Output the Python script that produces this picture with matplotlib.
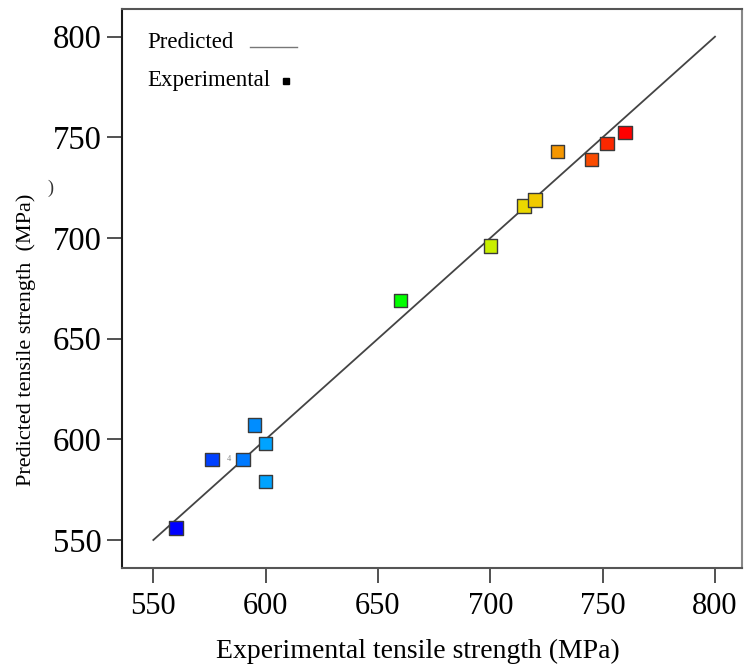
import matplotlib
matplotlib.use("Agg")
import matplotlib.pyplot as plt
from matplotlib.colors import LinearSegmentedColormap, Normalize

# ---- data ----
exp_strength = [560, 576, 590, 595, 600, 600, 660, 700, 715, 720, 730, 745, 752, 760]
pred_strength = [556, 590, 590, 607, 598, 579, 669, 696, 716, 719, 743, 739, 747, 752.5]
fit_x = [550, 800]
fit_y = [550, 800]
ticks = [550, 600, 650, 700, 750, 800]
legend_labels = ["Predicted", "Experimental"]
xlabel = "Experimental tensile strength (MPa)"
ylabel = "Predicted tensile strength  (MPa)"

FONT = "Liberation Serif"

fig = plt.figure(figsize=(7.45, 6.64), dpi=100)
ax = fig.add_axes([0.1642, 0.1446, 0.8314, 0.8414])

cmap = LinearSegmentedColormap.from_list(
    "de", [(0.0, "#0000ff"), (0.25, "#00ccff"), (0.5, "#00ff00"),
           (0.7, "#c8f000"), (0.79, "#f0d400"), (1.0, "#ff0000")])
norm = Normalize(vmin=560, vmax=760)

ax.plot(fit_x, fit_y, color="#444444", lw=1.3, zorder=2)
ax.scatter(exp_strength, pred_strength, c=exp_strength, cmap=cmap, norm=norm,
           marker="s", s=95, edgecolors="#3a3a3a", linewidths=1.0, zorder=3)

ax.set_xlim(536.2, 811.9)
ax.set_ylim(536.1, 813.6)
ax.set_xticks(ticks)
ax.set_yticks(ticks)
ax.set_xticklabels([str(t) for t in ticks], fontfamily=FONT, fontsize=22)
ax.set_yticklabels([str(t) for t in ticks], fontfamily=FONT, fontsize=23.5)
ax.tick_params(axis="both", direction="out", length=11, width=1.2, color="#333333")
ax.tick_params(axis="x", pad=6)
ax.tick_params(axis="y", pad=4)

for side, col in [("left", "#1a1a1a"), ("bottom", "#555555"),
                  ("top", "#555555"), ("right", "#888888")]:
    ax.spines[side].set_color(col)
    ax.spines[side].set_linewidth(1.5)

ax.set_xlabel(xlabel, fontfamily=FONT, fontsize=20, va="center", ha="center")
ax.xaxis.set_label_coords(0.477, -0.149)
ax.set_ylabel(ylabel, fontfamily=FONT, fontsize=16, va="center", ha="center")
ax.yaxis.set_label_coords(-0.155, 0.408)

# legend drawn as text + samples
ax.text(0.040, 0.940, legend_labels[0], transform=ax.transAxes, fontfamily=FONT,
        fontsize=16.5, va="center", ha="left")
ax.plot([0.206, 0.282], [0.933, 0.933], transform=ax.transAxes, color="#777777", lw=1.0)
ax.text(0.040, 0.872, legend_labels[1], transform=ax.transAxes, fontfamily=FONT,
        fontsize=16.5, va="center", ha="left")
ax.plot([0.264], [0.872], transform=ax.transAxes, marker="s", color="black",
        markersize=4.5, linestyle="none")

# small run-count label
ax.text(583.7, 590.4, "4", fontsize=6, color="#888888", ha="center", va="center",
        fontfamily=FONT)
# stray mark next to the y axis
fig.text(50 / 745, 1 - 188 / 664, ")", fontsize=13, color="#333333",
         ha="center", va="center", fontfamily=FONT)

fig.savefig("out.png", dpi=100)
